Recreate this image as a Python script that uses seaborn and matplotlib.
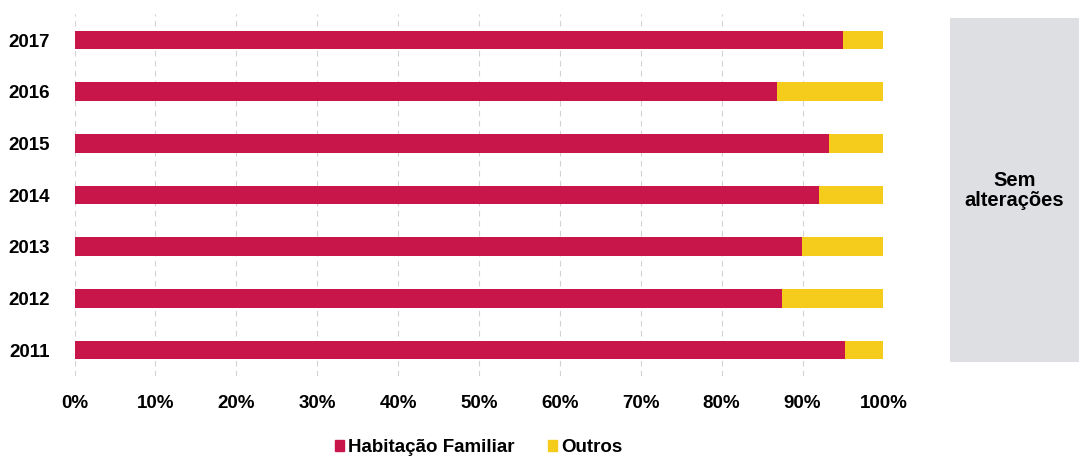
import pandas as pd
import numpy as np
import matplotlib
matplotlib.use('Agg')
import matplotlib.pyplot as plt
import seaborn as sns
from matplotlib.patches import Patch

# Dados do gráfico
anos = ['2017', '2016', '2015', '2014', '2013', '2012', '2011']
habitacao = [95.0, 86.9, 93.3, 92.0, 89.9, 87.4, 95.3]
outros = [5.0, 13.1, 6.7, 8.0, 10.1, 12.6, 4.7]
xticks = [0, 10, 20, 30, 40, 50, 60, 70, 80, 90, 100]

cor_hab = '#c8164b'
cor_out = '#f5cb1c'

sns.set_theme(style='white')
plt.rcParams['font.family'] = ['Liberation Sans', 'DejaVu Sans']
plt.rcParams['text.color'] = 'black'
plt.rcParams['xtick.color'] = 'black'
plt.rcParams['ytick.color'] = 'black'

df = pd.DataFrame({'Ano': anos, 'Habitação Familiar': habitacao, 'Outros': outros})
df['Total'] = df['Habitação Familiar'] + df['Outros']

fig = plt.figure(figsize=(10.8, 4.59), dpi=100)
ax = fig.add_axes([0.069, 0.181, 0.749, 0.788])

# Barras empilhadas: total (amarelo) por baixo, habitação (vermelho) por cima
sns.barplot(data=df, y='Ano', x='Total', orient='h', color=cor_out,
            width=0.36, ax=ax, saturation=1, linewidth=0)
sns.barplot(data=df, y='Ano', x='Habitação Familiar', orient='h', color=cor_hab,
            width=0.36, ax=ax, saturation=1, linewidth=0)

ax.set_xlim(0, 100)
ax.set_xticks(xticks)
ax.set_xticklabels([f'{t}%' for t in xticks], fontsize=13.5, fontweight='bold')
for lbl in ax.get_yticklabels():
    lbl.set_fontsize(13.5)
    lbl.set_fontweight('bold')
ax.set_xlabel('')
ax.set_ylabel('')
ax.tick_params(axis='x', pad=14, length=0)
ax.tick_params(axis='y', pad=18, length=0)
ax.xaxis.grid(True, color='#d2d2d2', linestyle=(0, (5, 4)), linewidth=0.8)
ax.set_axisbelow(True)
for s in ax.spines.values():
    s.set_visible(False)

handles = [Patch(color=cor_hab, label='Habitação Familiar'),
           Patch(color=cor_out, label='Outros')]
fig.legend(handles=handles, loc='center', bbox_to_anchor=(0.443, 0.025),
           ncol=2, frameon=False, handlelength=0.5, handleheight=0.5,
           handletextpad=0.2, columnspacing=1.8,
           prop={'weight': 'bold', 'size': 13.5})

# Caixa cinzenta à direita
ax2 = fig.add_axes([0.880, 0.211, 0.119, 0.749])
ax2.set_facecolor('#dedfe3')
ax2.set_xticks([])
ax2.set_yticks([])
for s in ax2.spines.values():
    s.set_visible(False)
ax2.text(0.5, 0.5, 'Sem\nalterações', ha='center', va='center',
         fontsize=14.5, fontweight='bold', transform=ax2.transAxes, linespacing=1.1)

fig.savefig('out.png', dpi=100)
